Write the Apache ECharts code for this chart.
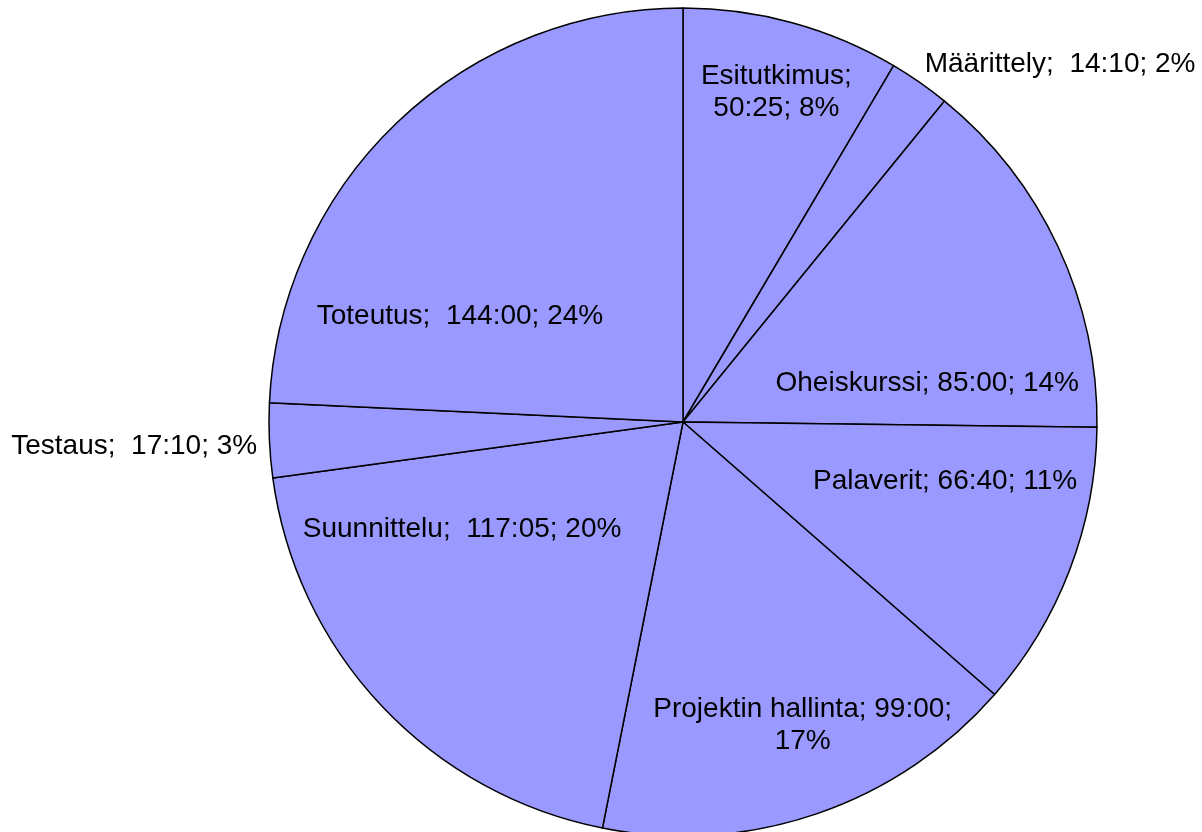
<!DOCTYPE html>
<html>
<head>
<meta charset="utf-8">
<script src="https://cdn.jsdelivr.net/npm/echarts@6/dist/echarts.min.js"></script>
<style>
html,body{margin:0;padding:0;background:#fff;}
#chart{width:1202px;height:832px;}
</style>
</head>
<body>
<div id="chart"></div>
<script>
// Categories (clockwise from top)
var categories = ['Esitutkimus', 'Määrittely', 'Oheiskurssi', 'Palaverit', 'Projektin hallinta', 'Suunnittelu', 'Testaus', 'Toteutus'];
// Durations in minutes (HH:MM in labels)
var minutes = [3025, 850, 5100, 4000, 5940, 7025, 1030, 8640];
// Separator after name in label text
var nameSeparators = [';\n', ';  ', '; ', '; ', '; ', ';  ', ';  ', ';  '];
// Line break before percentage
var pctBreak = [false, false, false, false, true, false, false, false];
// Label offsets from the default inside position
var labelOffsets = [[38, -127], [257, -185], [54, 50], [66, -16], [52, 104], [-68, -37], [-339, 15], [-78, 46]];

var total = minutes.reduce(function (a, b) { return a + b; }, 0);
function fmtTime(m) {
  var h = Math.floor(m / 60), mm = m % 60;
  return h + ':' + (mm < 10 ? '0' : '') + mm;
}
var data = categories.map(function (c, i) { return { name: c, value: minutes[i] }; });

var chart = echarts.init(document.getElementById('chart'), null, { renderer: 'canvas' });
chart.setOption({
  animation: false,
  backgroundColor: '#ffffff',
  series: [{
    type: 'pie',
    center: [683, 422],
    radius: [0, 414],
    startAngle: 90,
    clockwise: true,
    avoidLabelOverlap: false,
    data: data,
    itemStyle: { color: '#9999ff', borderColor: '#000000', borderWidth: 1.5 },
    label: {
      show: true,
      position: 'inside',
      fontFamily: 'Liberation Sans, Arial, sans-serif',
      fontSize: 28,
      lineHeight: 32,
      color: '#000000',
      align: 'center',
      formatter: function (p) {
        var i = p.dataIndex;
        var pct = Math.round(minutes[i] / total * 100) + '%';
        return categories[i] + nameSeparators[i] + fmtTime(minutes[i]) + ';' + (pctBreak[i] ? '\n' : ' ') + pct;
      }
    },
    labelLine: { show: false },
    labelLayout: function (p) {
      var o = labelOffsets[p.dataIndex];
      return { dx: o[0], dy: o[1] };
    },
    emphasis: { disabled: true }
  }]
});
</script>
</body>
</html>
